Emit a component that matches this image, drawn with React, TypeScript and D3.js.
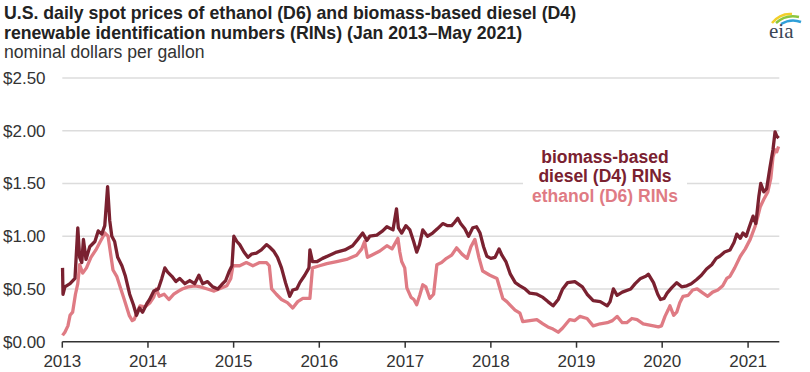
import React, { useEffect, useRef } from 'react';
import * as d3 from 'd3';

// biomass-based diesel (D4) RIN spot price, dollars per gallon
const d4Dates = [
  '2013-01-02', '2013-01-04', '2013-01-12', '2013-02-03', '2013-02-24', '2013-03-08', '2013-03-16', '2013-03-25',
  '2013-04-01', '2013-04-12', '2013-04-28', '2013-05-20', '2013-06-03', '2013-06-18', '2013-07-01', '2013-07-13',
  '2013-07-22', '2013-07-31', '2013-08-12', '2013-08-25', '2013-09-12', '2013-09-27', '2013-10-15', '2013-10-31',
  '2013-11-13', '2013-11-26', '2013-12-09', '2013-12-27', '2014-01-08', '2014-01-26', '2014-02-14', '2014-03-01',
  '2014-03-14', '2014-03-26', '2014-04-13', '2014-04-30', '2014-05-16', '2014-06-07', '2014-06-28', '2014-07-19',
  '2014-08-06', '2014-08-22', '2014-09-12', '2014-10-04', '2014-10-26', '2014-11-11', '2014-11-28', '2014-12-12',
  '2014-12-25', '2015-01-02', '2015-01-15', '2015-01-27', '2015-02-14', '2015-03-03', '2015-03-18', '2015-04-08',
  '2015-04-29', '2015-05-21', '2015-06-02', '2015-06-20', '2015-07-07', '2015-07-24', '2015-08-10', '2015-08-28',
  '2015-09-10', '2015-09-27', '2015-10-10', '2015-10-31', '2015-11-18', '2015-11-22', '2015-12-03', '2015-12-23',
  '2016-01-15', '2016-02-14', '2016-03-15', '2016-04-19', '2016-05-22', '2016-06-13', '2016-07-04', '2016-07-22',
  '2016-08-03', '2016-09-02', '2016-09-27', '2016-10-15', '2016-11-10', '2016-11-25', '2016-12-03', '2016-12-17',
  '2017-01-04', '2017-01-21', '2017-02-06', '2017-02-19', '2017-03-03', '2017-03-17', '2017-04-06', '2017-04-28',
  '2017-05-18', '2017-06-10', '2017-07-01', '2017-07-18', '2017-07-30', '2017-08-13', '2017-08-25', '2017-09-12',
  '2017-09-28', '2017-10-16', '2017-11-01', '2017-11-16', '2017-12-01', '2017-12-15', '2018-01-01', '2018-01-19',
  '2018-02-05', '2018-02-17', '2018-03-06', '2018-03-25', '2018-04-15', '2018-05-05', '2018-05-27', '2018-06-16',
  '2018-07-16', '2018-08-11', '2018-09-01', '2018-09-23', '2018-10-15', '2018-11-03', '2018-11-24', '2018-12-25',
  '2019-01-26', '2019-02-15', '2019-03-13', '2019-04-12', '2019-05-12', '2019-05-24', '2019-06-07', '2019-06-23',
  '2019-07-15', '2019-08-20', '2019-09-08', '2019-10-01', '2019-10-23', '2019-11-03', '2019-11-25', '2019-12-13',
  '2019-12-25', '2020-01-09', '2020-01-22', '2020-02-10', '2020-03-03', '2020-03-24', '2020-04-15', '2020-05-04',
  '2020-05-27', '2020-06-16', '2020-07-08', '2020-07-30', '2020-08-18', '2020-09-02', '2020-09-23', '2020-10-16',
  '2020-11-02', '2020-11-14', '2020-11-29', '2020-12-10', '2020-12-24', '2021-01-05', '2021-01-22', '2021-02-03',
  '2021-02-16', '2021-02-24', '2021-03-09', '2021-03-21', '2021-04-04', '2021-04-17', '2021-04-26', '2021-05-03',
  '2021-05-11',
];
const d4Values = [
  0.70, 0.45, 0.52, 0.55, 0.60, 1.08, 0.80, 0.75,
  0.97, 0.78, 0.90, 0.95, 1.05, 1.02, 1.10, 1.47,
  1.15, 1.00, 0.95, 0.80, 0.72, 0.62, 0.45, 0.35,
  0.25, 0.32, 0.28, 0.36, 0.40, 0.48, 0.50, 0.60,
  0.70, 0.66, 0.62, 0.57, 0.60, 0.55, 0.58, 0.55,
  0.63, 0.55, 0.57, 0.52, 0.50, 0.54, 0.58, 0.66,
  0.72, 1.00, 0.95, 0.92, 0.85, 0.80, 0.83, 0.84,
  0.87, 0.92, 0.90, 0.86, 0.80, 0.70, 0.56, 0.43,
  0.49, 0.50, 0.56, 0.63, 0.70, 0.87, 0.76, 0.76,
  0.79, 0.82, 0.85, 0.87, 0.91, 0.97, 1.03, 0.96,
  1.00, 1.01, 1.05, 1.09, 1.06, 1.26, 1.08, 1.03,
  1.10, 1.06, 0.95, 0.85, 0.92, 1.06, 1.00, 1.03,
  1.07, 1.12, 1.10, 1.10, 1.13, 1.17, 1.12, 1.07,
  1.00, 1.08, 1.09, 1.03, 0.90, 0.81, 0.79, 0.80,
  0.88, 0.82, 0.76, 0.64, 0.56, 0.53, 0.50, 0.46,
  0.45, 0.42, 0.38, 0.34, 0.40, 0.50, 0.56, 0.57,
  0.52, 0.45, 0.39, 0.38, 0.34, 0.38, 0.50, 0.44,
  0.47, 0.50, 0.55, 0.60, 0.62, 0.64, 0.56, 0.45,
  0.40, 0.41, 0.46, 0.51, 0.56, 0.52, 0.53, 0.55,
  0.59, 0.63, 0.69, 0.73, 0.79, 0.81, 0.85, 0.87,
  0.94, 1.02, 0.98, 1.03, 1.00, 1.08, 1.19, 1.12,
  1.38, 1.50, 1.42, 1.45, 1.65, 1.82, 1.99, 1.95,
  1.93,
];

// ethanol (D6) RIN spot price, dollars per gallon
const d6Dates = [
  '2013-01-02', '2013-01-12', '2013-01-25', '2013-02-03', '2013-02-14', '2013-02-26', '2013-03-08', '2013-03-16',
  '2013-03-29', '2013-04-14', '2013-05-03', '2013-05-24', '2013-06-12', '2013-07-02', '2013-07-15', '2013-07-28',
  '2013-08-05', '2013-08-21', '2013-09-06', '2013-09-22', '2013-10-13', '2013-10-26', '2013-11-03', '2013-11-16',
  '2013-11-28', '2013-12-19', '2014-01-10', '2014-01-25', '2014-02-06', '2014-02-18', '2014-03-11', '2014-03-31',
  '2014-04-21', '2014-05-11', '2014-05-27', '2014-06-21', '2014-07-20', '2014-08-13', '2014-09-11', '2014-10-10',
  '2014-12-03', '2014-12-20', '2014-12-29', '2015-01-27', '2015-02-24', '2015-03-24', '2015-04-22', '2015-05-21',
  '2015-06-02', '2015-06-12', '2015-07-02', '2015-07-24', '2015-08-18', '2015-09-10', '2015-10-01', '2015-10-23',
  '2015-11-22', '2015-12-03', '2016-01-02', '2016-02-02', '2016-03-15', '2016-04-26', '2016-06-08', '2016-06-30',
  '2016-07-12', '2016-07-24', '2016-08-11', '2016-09-15', '2016-10-15', '2016-11-06', '2016-12-01', '2016-12-09',
  '2016-12-17', '2016-12-30', '2017-01-08', '2017-01-26', '2017-02-07', '2017-02-19', '2017-03-04', '2017-03-17',
  '2017-03-30', '2017-04-16', '2017-05-02', '2017-05-16', '2017-06-05', '2017-06-26', '2017-07-18', '2017-08-08',
  '2017-08-31', '2017-09-22', '2017-10-08', '2017-10-25', '2017-11-11', '2017-11-27', '2017-12-28', '2018-01-27',
  '2018-02-21', '2018-03-10', '2018-03-23', '2018-04-14', '2018-05-05', '2018-05-17', '2018-06-16', '2018-07-16',
  '2018-08-11', '2018-09-01', '2018-09-23', '2018-10-15', '2018-11-03', '2018-12-03', '2018-12-25', '2019-01-15',
  '2019-02-15', '2019-03-13', '2019-04-12', '2019-05-12', '2019-06-03', '2019-06-23', '2019-07-15', '2019-08-03',
  '2019-08-25', '2019-09-16', '2019-10-12', '2019-11-03', '2019-11-25', '2019-12-16', '2019-12-29', '2020-01-13',
  '2020-01-26', '2020-02-03', '2020-02-19', '2020-03-03', '2020-03-16', '2020-03-30', '2020-04-21', '2020-05-10',
  '2020-05-29', '2020-06-23', '2020-07-13', '2020-08-03', '2020-08-25', '2020-09-15', '2020-10-02', '2020-10-16',
  '2020-11-05', '2020-11-29', '2020-12-20', '2021-01-10', '2021-02-01', '2021-02-13', '2021-02-22', '2021-03-09',
  '2021-03-26', '2021-04-08', '2021-04-17', '2021-04-26', '2021-05-03', '2021-05-11',
];
const d6Values = [
  0.06, 0.09, 0.15, 0.25, 0.28, 0.45, 0.55, 0.73,
  0.65, 0.70, 0.80, 0.87, 0.95, 1.03, 1.00, 0.80,
  0.68, 0.62, 0.51, 0.40, 0.25, 0.20, 0.21, 0.28,
  0.34, 0.33, 0.37, 0.42, 0.50, 0.43, 0.45, 0.40,
  0.45, 0.48, 0.50, 0.52, 0.53, 0.52, 0.50, 0.48,
  0.53, 0.60, 0.72, 0.72, 0.75, 0.72, 0.75, 0.75,
  0.72, 0.50, 0.45, 0.40, 0.37, 0.32, 0.38, 0.41,
  0.41, 0.70, 0.72, 0.74, 0.76, 0.78, 0.82, 0.88,
  0.95, 0.80, 0.82, 0.86, 0.91, 0.88, 0.98, 0.85,
  0.76, 0.70, 0.51, 0.42, 0.40, 0.35, 0.44, 0.54,
  0.52, 0.41, 0.45, 0.73, 0.75, 0.79, 0.82, 0.89,
  0.83, 0.79, 0.90, 0.97, 0.80, 0.67, 0.63, 0.60,
  0.41, 0.38, 0.35, 0.30, 0.27, 0.19, 0.20, 0.21,
  0.17, 0.14, 0.12, 0.09, 0.13, 0.21, 0.20, 0.24,
  0.22, 0.15, 0.17, 0.18, 0.20, 0.24, 0.18, 0.18,
  0.22, 0.21, 0.17, 0.16, 0.15, 0.14, 0.15, 0.24,
  0.30, 0.34, 0.25, 0.28, 0.37, 0.43, 0.44, 0.49,
  0.50, 0.46, 0.43, 0.47, 0.49, 0.53, 0.60, 0.62,
  0.70, 0.81, 0.88, 0.97, 1.10, 1.20, 1.28, 1.35,
  1.42, 1.55, 1.75, 1.82, 1.80, 1.85,
];

const yTicks = [0, 0.5, 1, 1.5, 2, 2.5];
const yearTicks = [2013, 2014, 2015, 2016, 2017, 2018, 2019, 2020, 2021];

const titleLines = [
  'U.S. daily spot prices of ethanol (D6) and biomass-based diesel (D4)',
  'renewable identification numbers (RINs) (Jan 2013\u2013May 2021)',
];
const subtitle = 'nominal dollars per gallon';

const D4_COLOR = '#7a2130';
const D6_COLOR = '#df7b84';
const FONT = '"Liberation Sans", Arial, sans-serif';

type Pt = { date: Date; value: number };

export default function App() {
  const svgRef = useRef<SVGSVGElement | null>(null);

  useEffect(() => {
    const svg = d3.select(svgRef.current);
    svg.selectAll('*').remove();

    const parse = d3.timeParse('%Y-%m-%d');
    const d4: Pt[] = d4Dates.map((d, i) => ({ date: parse(d) as Date, value: d4Values[i] }));
    const d6: Pt[] = d6Dates.map((d, i) => ({ date: parse(d) as Date, value: d6Values[i] }));

    const x = d3.scaleTime()
      .domain([new Date(2013, 0, 1), new Date(2021, 4, 14)])
      .range([62.3, 779.3]);
    const y = d3.scaleLinear().domain([0, 2.5]).range([341.7, 78]);

    // title
    const title = svg.append('g').attr('font-family', FONT).attr('fill', '#222');
    titleLines.forEach((t, i) => {
      title.append('text')
        .attr('x', 4).attr('y', 19 + i * 19.5)
        .attr('font-size', 17.7).attr('font-weight', 'bold')
        .text(t);
    });
    title.append('text')
      .attr('x', 4).attr('y', 58)
      .attr('font-size', 17.6).attr('fill', '#333')
      .text(subtitle);

    // grid + y labels
    const grid = svg.append('g');
    grid.selectAll('line')
      .data(yTicks.filter(v => v > 0))
      .join('line')
      .attr('x1', x.range()[0]).attr('x2', x.range()[1])
      .attr('y1', d => y(d)).attr('y2', d => y(d))
      .attr('stroke', '#dcdcdc').attr('stroke-width', 1.5);
    grid.selectAll('text')
      .data(yTicks)
      .join('text')
      .attr('x', 3).attr('y', d => y(d) + 6)
      .attr('font-family', FONT).attr('font-size', 17).attr('fill', '#333')
      .text(d => d3.format('$.2f')(d));

    // white box behind the labels
    svg.append('rect')
      .attr('x', 523).attr('y', 146).attr('width', 164).attr('height', 60)
      .attr('fill', '#fff');

    // x axis
    const axis = svg.append('g');
    axis.append('line')
      .attr('x1', x.range()[0]).attr('x2', x.range()[1])
      .attr('y1', y(0)).attr('y2', y(0))
      .attr('stroke', '#333').attr('stroke-width', 1.5);
    const ticks = axis.selectAll('g.tick')
      .data(yearTicks)
      .join('g')
      .classed('tick', true)
      .attr('transform', d => `translate(${x(new Date(d, 0, 1))},0)`);
    ticks.append('line')
      .attr('y1', y(0)).attr('y2', y(0) + 6)
      .attr('stroke', '#333').attr('stroke-width', 1.5);
    ticks.append('text')
      .attr('y', 367).attr('text-anchor', 'middle')
      .attr('font-family', FONT).attr('font-size', 17).attr('fill', '#333')
      .text(d => String(d));

    // lines
    const line = d3.line<Pt>().x(d => x(d.date)).y(d => y(d.value));
    svg.append('path').datum(d6)
      .attr('d', line).attr('fill', 'none')
      .attr('stroke', D6_COLOR).attr('stroke-width', 3.3).attr('stroke-linejoin', 'round');
    svg.append('path').datum(d4)
      .attr('d', line).attr('fill', 'none')
      .attr('stroke', D4_COLOR).attr('stroke-width', 3.3).attr('stroke-linejoin', 'round');

    // series labels
    const lab = svg.append('g')
      .attr('font-family', FONT).attr('font-size', 17.5).attr('font-weight', 'bold')
      .attr('text-anchor', 'middle');
    lab.append('text').attr('x', 605).attr('y', 163).attr('fill', D4_COLOR).text('biomass-based');
    lab.append('text').attr('x', 605).attr('y', 182).attr('fill', D4_COLOR).text('diesel (D4) RINs');
    lab.append('text').attr('x', 605).attr('y', 202).attr('fill', D6_COLOR).text('ethanol (D6) RINs');

    // eia logo
    const logo = svg.append('g');
    logo.append('path').attr('d', 'M772,23 Q780,13 792,14').attr('fill', 'none')
      .attr('stroke', '#f2cf2a').attr('stroke-width', 2.5);
    logo.append('path').attr('d', 'M776,23 Q786,14 799,17').attr('fill', 'none')
      .attr('stroke', '#8cc63e').attr('stroke-width', 2.5);
    logo.append('path').attr('d', 'M781,24 Q791,18 801,22').attr('fill', 'none')
      .attr('stroke', '#2f9fd8').attr('stroke-width', 2.5);
    logo.append('text')
      .attr('x', 769).attr('y', 38)
      .attr('font-family', '"Liberation Serif", "DejaVu Serif", serif')
      .attr('font-size', 21).attr('fill', '#3a4656')
      .text('eia');

    return () => {
      svg.selectAll('*').remove();
    };
  }, []);

  return (
    <svg ref={svgRef} width={810} height={372}
      style={{ position: 'absolute', left: 0, top: 0, background: '#fff' }} />
  );
}
